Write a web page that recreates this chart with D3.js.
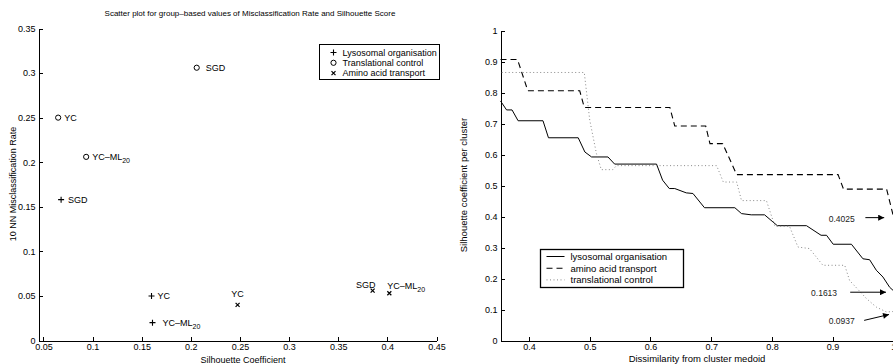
<!DOCTYPE html>
<html>
<head>
<meta charset="utf-8">
<script src="https://cdn.jsdelivr.net/npm/d3@7"></script>
<style>
  body { margin: 0; background: #fff; }
  svg { display: block; font-family: "Liberation Sans", Arial, sans-serif; }
  .axis path, .axis line { stroke: #000; shape-rendering: crispEdges; }
  .axis text { font-size: 9px; fill: #000; }
</style>
</head>
<body>
<div id="chart"></div>
<script>
// ---- left panel: scatter of group based values ----
const groups = ["Lysosomal organisation", "Translational control", "Amino acid transport"];
const pointGroup = [0, 0, 0, 1, 1, 1, 2, 2, 2];
const pointName = ["SGD", "YC", "YC–ML", "SGD", "YC", "YC–ML", "SGD", "YC", "YC–ML"];
const pointSub = ["", "", "20", "", "", "20", "", "", "20"];
const silhouette = [0.068, 0.160, 0.161, 0.206, 0.065, 0.0935, 0.385, 0.2476, 0.402];
const misclass = [0.158, 0.050, 0.020, 0.306, 0.250, 0.206, 0.056, 0.040, 0.053];
const leftXTicks = [0.05, 0.1, 0.15, 0.2, 0.25, 0.3, 0.35, 0.4, 0.45];
const leftYTicks = [0, 0.05, 0.1, 0.15, 0.2, 0.25, 0.3, 0.35];

// ---- right panel: silhouette per cluster ----
const curveNames = ["lysosomal organisation", "amino acid transport", "translational control"];
const lysoX = [0.353, 0.363, 0.372, 0.382, 0.423, 0.432, 0.481, 0.492, 0.503, 0.530, 0.541, 0.610, 0.620, 0.631, 0.640, 0.659, 0.670, 0.689, 0.739, 0.750, 0.766, 0.788, 0.809, 0.857, 0.881, 0.890, 0.901, 0.931, 0.950, 0.961, 0.972, 0.983, 0.994, 1.0];
const lysoY = [0.774, 0.745, 0.745, 0.710, 0.710, 0.655, 0.655, 0.609, 0.593, 0.593, 0.570, 0.570, 0.518, 0.491, 0.491, 0.477, 0.475, 0.429, 0.429, 0.410, 0.406, 0.406, 0.371, 0.371, 0.340, 0.340, 0.311, 0.311, 0.264, 0.261, 0.227, 0.205, 0.172, 0.1613];
const aminoX = [0.353, 0.381, 0.398, 0.4835, 0.491, 0.632, 0.640, 0.691, 0.698, 0.719, 0.742, 0.909, 0.918, 0.989, 1.0];
const aminoY = [0.908, 0.908, 0.807, 0.807, 0.753, 0.753, 0.693, 0.693, 0.636, 0.636, 0.536, 0.536, 0.489, 0.489, 0.4025];
const transX = [0.355, 0.491, 0.500, 0.511, 0.519, 0.538, 0.544, 0.709, 0.720, 0.742, 0.750, 0.791, 0.805, 0.829, 0.843, 0.862, 0.884, 0.920, 0.928, 0.956, 0.972, 0.989, 1.0];
const transY = [0.866, 0.866, 0.712, 0.604, 0.552, 0.552, 0.565, 0.565, 0.512, 0.512, 0.452, 0.452, 0.369, 0.369, 0.302, 0.297, 0.243, 0.243, 0.194, 0.135, 0.108, 0.092, 0.0937];
const rightXTicks = [0.4, 0.5, 0.6, 0.7, 0.8, 0.9, 1];
const rightYTicks = [0, 0.1, 0.2, 0.3, 0.4, 0.5, 0.6, 0.7, 0.8, 0.9, 1];

// end values marked with arrows
const endText = ["0.4025", "0.1613", "0.0937"];
const endTextX = [0.915, 0.886, 0.915];
const endTextY = [0.392, 0.153, 0.0615];
const arrowFromX = [0.954, 0.929, 0.952];
const arrowFromY = [0.397, 0.156, 0.065];
const arrowToX = [0.985, 0.988, 0.993];
const arrowToY = [0.397, 0.156, 0.0841];

const fmt = d => String(+d.toFixed(2));

const svg = d3.select("#chart").append("svg")
    .attr("width", 893)
    .attr("height", 364);

svg.append("defs").append("marker")
    .attr("id", "arrow")
    .attr("viewBox", "0 0 10 10")
    .attr("refX", 10).attr("refY", 5)
    .attr("markerWidth", 9).attr("markerHeight", 6)
    .attr("markerUnits", "userSpaceOnUse")
    .attr("orient", "auto")
    .append("path")
    .attr("d", "M0,0L10,5L0,10z")
    .attr("fill", "#000");

// ================= left chart =================
const x1 = d3.scaleLinear().domain([0.045, 0.45]).range([38.5, 436.5]);
const y1 = d3.scaleLinear().domain([0, 0.35]).range([340.5, 28.5]);

const g1 = svg.append("g");

g1.append("g").attr("class", "axis")
    .attr("transform", "translate(0," + y1(0) + ")")
    .call(d3.axisBottom(x1).tickValues(leftXTicks).tickFormat(fmt).tickSizeInner(-4).tickSizeOuter(0).tickPadding(3));

g1.append("g").attr("class", "axis")
    .attr("transform", "translate(" + x1(0.045) + ",0)")
    .call(d3.axisLeft(y1).tickValues(leftYTicks).tickFormat(fmt).tickSizeInner(-4).tickSizeOuter(0).tickPadding(3));

g1.append("text")
    .attr("x", 250).attr("y", 16)
    .attr("text-anchor", "middle")
    .attr("font-size", 8)
    .text("Scatter plot for group–based values of Misclassification Rate and Silhouette Score");

g1.append("text")
    .attr("x", 243).attr("y", 363)
    .attr("text-anchor", "middle")
    .attr("font-size", 9)
    .text("Silhouette Coefficient");

g1.append("text")
    .attr("transform", "translate(16,184) rotate(-90)")
    .attr("text-anchor", "middle")
    .attr("font-size", 9)
    .text("10 NN Misclassification Rate");

// marker shapes per group
function drawMarker(sel, grp) {
    if (grp === 0) {
        sel.append("path").attr("d", "M-3,0H3M0,-3V3").attr("stroke", "#000").attr("stroke-width", 1.1);
    } else if (grp === 1) {
        sel.append("circle").attr("r", 2.6).attr("fill", "none").attr("stroke", "#000").attr("stroke-width", 1);
    } else {
        sel.append("path").attr("d", "M-2,-2L2,2M-2,2L2,-2").attr("stroke", "#000").attr("stroke-width", 1.2);
    }
}

// where each label sits relative to its marker
const labelPlacement = [[7, 3.5, "start"], [6, 3.5, "start"], [10, 3.5, "start"],
                        [9, 3.5, "start"], [6, 3.5, "start"], [6, 3.5, "start"],
                        [3, -3, "end"], [0, -8, "middle"], [-2, -4, "start"]];

const pts = g1.selectAll("g.pt")
    .data(silhouette.map((s, i) => i))
    .enter().append("g")
    .attr("class", "pt")
    .attr("transform", i => "translate(" + x1(silhouette[i]) + "," + y1(misclass[i]) + ")");

pts.each(function (i) {
    const p = d3.select(this);
    drawMarker(p, pointGroup[i]);
    const lp = labelPlacement[i];
    const t = p.append("text")
        .attr("x", lp[0]).attr("y", lp[1])
        .attr("text-anchor", lp[2])
        .attr("font-size", 9);
    t.append("tspan").text(pointName[i]);
    if (pointSub[i]) {
        t.append("tspan").attr("dy", 3).attr("font-size", 7).text(pointSub[i]);
    }
});

// legend
const lg1 = g1.append("g").attr("transform", "translate(319.5,44.5)");
lg1.append("rect").attr("width", 120).attr("height", 35)
    .attr("fill", "#fff").attr("stroke", "#000").attr("stroke-width", 1);
groups.forEach((name, i) => {
    const row = lg1.append("g").attr("transform", "translate(14," + (8 + i * 10.3) + ")");
    drawMarker(row, i);
    row.append("text").attr("x", 9).attr("y", 3.2).attr("font-size", 9).text(name);
});

// ================= right chart =================
const x2 = d3.scaleLinear().domain([0.353, 1.0]).range([500.5, 893.3]);
const y2 = d3.scaleLinear().domain([0, 1]).range([340.5, 31]);

const g2 = svg.append("g");

g2.append("g").attr("class", "axis")
    .attr("transform", "translate(0," + y2(0) + ")")
    .call(d3.axisBottom(x2.copy().domain([0.353, 1.02]).range([500.5, 893.3 + 0.02 * 607])).tickValues(rightXTicks).tickFormat(fmt).tickSizeInner(-4).tickSizeOuter(0).tickPadding(3));

g2.append("g").attr("class", "axis")
    .attr("transform", "translate(" + x2(0.353) + ",0)")
    .call(d3.axisLeft(y2).tickValues(rightYTicks).tickFormat(fmt).tickSizeInner(-4).tickSizeOuter(0).tickPadding(3));

g2.append("text")
    .attr("x", 697).attr("y", 362)
    .attr("text-anchor", "middle")
    .attr("font-size", 9.5)
    .text("Dissimilarity from cluster  medoid");

g2.append("text")
    .attr("transform", "translate(467,185) rotate(-90)")
    .attr("text-anchor", "middle")
    .attr("font-size", 9.5)
    .text("Silhouette coefficient per cluster");

const line = d3.line().x(d => x2(d[0])).y(d => y2(d[1]));
const curveStyles = [
    { stroke: "#000", dash: null, width: 1 },
    { stroke: "#000", dash: "6,4", width: 1.1 },
    { stroke: "#888", dash: "1,2.5", width: 1 }
];
const curves = [d3.zip(lysoX, lysoY), d3.zip(aminoX, aminoY), d3.zip(transX, transY)];

curves.forEach((c, i) => {
    g2.append("path")
        .datum(c)
        .attr("d", line)
        .attr("fill", "none")
        .attr("stroke", curveStyles[i].stroke)
        .attr("stroke-width", curveStyles[i].width)
        .attr("stroke-dasharray", curveStyles[i].dash);
});

// arrows with the end values
endText.forEach((t, i) => {
    g2.append("text")
        .attr("x", x2(endTextX[i])).attr("y", y2(endTextY[i]) + 3)
        .attr("text-anchor", "middle")
        .attr("font-size", 8.5)
        .attr("fill", "#222")
        .text(t);
    g2.append("line")
        .attr("x1", x2(arrowFromX[i])).attr("y1", y2(arrowFromY[i]))
        .attr("x2", x2(arrowToX[i])).attr("y2", y2(arrowToY[i]))
        .attr("stroke", "#000").attr("stroke-width", 1)
        .attr("marker-end", "url(#arrow)");
});

// legend
const lg2 = g2.append("g").attr("transform", "translate(540.5,249.5)");
lg2.append("rect").attr("width", 143).attr("height", 38)
    .attr("fill", "#fff").attr("stroke", "#000").attr("stroke-width", 1.3);
curveNames.forEach((name, i) => {
    const yy = 7 + i * 11.7;
    lg2.append("line")
        .attr("x1", 6).attr("x2", 24).attr("y1", yy).attr("y2", yy)
        .attr("stroke", curveStyles[i].stroke)
        .attr("stroke-width", curveStyles[i].width)
        .attr("stroke-dasharray", curveStyles[i].dash);
    lg2.append("text").attr("x", 30).attr("y", yy + 3.3).attr("font-size", 9.5).text(name);
});
</script>
</body>
</html>
